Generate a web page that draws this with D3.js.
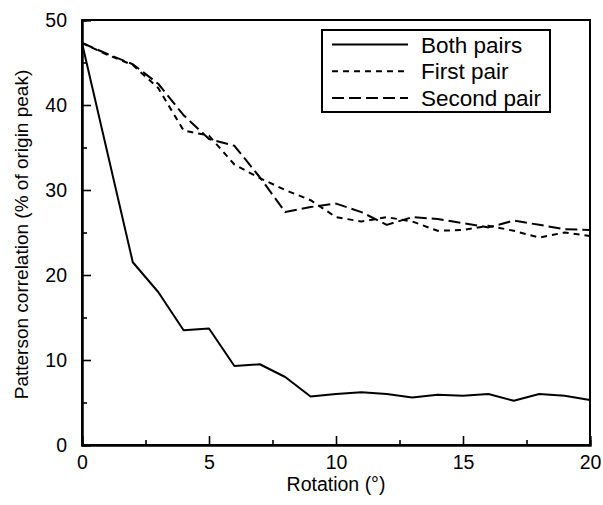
<!DOCTYPE html>
<html>
<head>
<meta charset="utf-8">
<script src="https://cdn.jsdelivr.net/npm/d3@7"></script>
<style>
  html, body { margin: 0; padding: 0; background: #fff; }
  svg text { font-family: "Liberation Sans", Arial, Helvetica, sans-serif; fill: #000; }
</style>
</head>
<body>
<svg id="chart" width="603" height="505"></svg>
<script>
// ---- data ----
const bothX = [0, 2, 3, 4, 5, 6, 7, 8, 9, 10, 11, 12, 13, 14, 15, 16, 17, 18, 19, 20];
const bothY = [47.3, 21.5, 18.0, 13.5, 13.7, 9.3, 9.5, 8.0, 5.7, 6.0, 6.2, 6.0, 5.6, 5.9, 5.8, 6.0, 5.2, 6.0, 5.8, 5.3];

const pairX = [0, 1, 2, 3, 4, 5, 6, 7, 8, 9, 10, 11, 12, 13, 14, 15, 16, 17, 18, 19, 20];
const firstY = [47.3, 45.9, 44.7, 42.0, 37.0, 36.4, 33.0, 31.4, 30.0, 28.8, 26.8, 26.3, 26.8, 26.3, 25.2, 25.3, 25.8, 25.2, 24.4, 25.0, 24.6];
const secondY = [47.3, 46.0, 44.8, 42.5, 38.8, 36.0, 35.2, 31.5, 27.4, 28.0, 28.4, 27.4, 25.9, 26.8, 26.6, 26.1, 25.6, 26.4, 25.9, 25.4, 25.3];

const seriesNames = ["Both pairs", "First pair", "Second pair"];
const xTicks = [0, 5, 10, 15, 20];
const xMinorTicks = [2.5, 7.5, 12.5, 17.5];
const yTicks = [0, 10, 20, 30, 40, 50];
const yMinorTicks = [5, 15, 25, 35, 45];
const xTitle = "Rotation (°)";
const yTitle = "Patterson correlation (% of origin peak)";

// ---- layout ----
const svg = d3.select("#chart");
const L = 82, R = 590, T = 20, B = 445;
const x = d3.scaleLinear().domain([0, 20]).range([L, R]);
const y = d3.scaleLinear().domain([0, 50]).range([B, T]);

const dashes = [null, "6,5", "12,5"];

// frame
svg.append("rect").attr("x", L).attr("y", T).attr("width", R - L).attr("height", B - T)
  .attr("fill", "none").attr("stroke", "#000").attr("stroke-width", 2);

// axes with inward ticks
svg.append("g").attr("transform", `translate(0,${B})`)
  .call(d3.axisBottom(x).tickValues(xTicks).tickSize(-9).tickPadding(10).tickFormat(d3.format("d")));
svg.append("g").attr("transform", `translate(0,${B})`)
  .call(d3.axisBottom(x).tickValues(xMinorTicks).tickSize(-5).tickFormat(""));
svg.append("g").attr("transform", `translate(${L},0)`)
  .call(d3.axisLeft(y).tickValues(yTicks).tickSize(-9).tickPadding(15).tickFormat(d3.format("d")));
svg.append("g").attr("transform", `translate(${L},0)`)
  .call(d3.axisLeft(y).tickValues(yMinorTicks).tickSize(-5).tickFormat(""));

svg.selectAll(".domain").attr("stroke", "#000").attr("stroke-width", 2);
svg.selectAll(".tick line").attr("stroke", "#000").attr("stroke-width", 1.6);
svg.selectAll(".tick text").attr("font-size", 19.5).attr("font-family", "Liberation Sans, Arial, sans-serif");

// titles
svg.append("text").attr("x", (L + R) / 2).attr("y", 491).attr("text-anchor", "middle")
  .attr("font-size", 19.5).text(xTitle);
svg.append("text").attr("transform", `translate(28,${(T + B) / 2 + 2}) rotate(-90)`)
  .attr("text-anchor", "middle").attr("font-size", 19).text(yTitle);

// lines
const line = d3.line().x(d => x(d[0])).y(d => y(d[1]));
const seriesData = [
  bothX.map((v, i) => [v, bothY[i]]),
  pairX.map((v, i) => [v, firstY[i]]),
  pairX.map((v, i) => [v, secondY[i]])
];
seriesData.forEach((d, i) => {
  svg.append("path").datum(d).attr("d", line)
    .attr("fill", "none").attr("stroke", "#000").attr("stroke-width", 2)
    .attr("stroke-linejoin", "round")
    .attr("stroke-dasharray", dashes[i]);
});

// legend
const lg = svg.append("g");
lg.append("rect").attr("x", 322).attr("y", 30).attr("width", 228).attr("height", 82)
  .attr("fill", "#fff").attr("stroke", "#000").attr("stroke-width", 2);
seriesNames.forEach((name, i) => {
  const yy = 44.5 + i * 26.7;
  lg.append("line").attr("x1", 332).attr("x2", 408).attr("y1", yy).attr("y2", yy)
    .attr("stroke", "#000").attr("stroke-width", 2).attr("stroke-dasharray", dashes[i]);
  lg.append("text").attr("x", 421).attr("y", yy).attr("dy", "0.36em")
    .attr("font-size", 22.5).text(name);
});
</script>
</body>
</html>
